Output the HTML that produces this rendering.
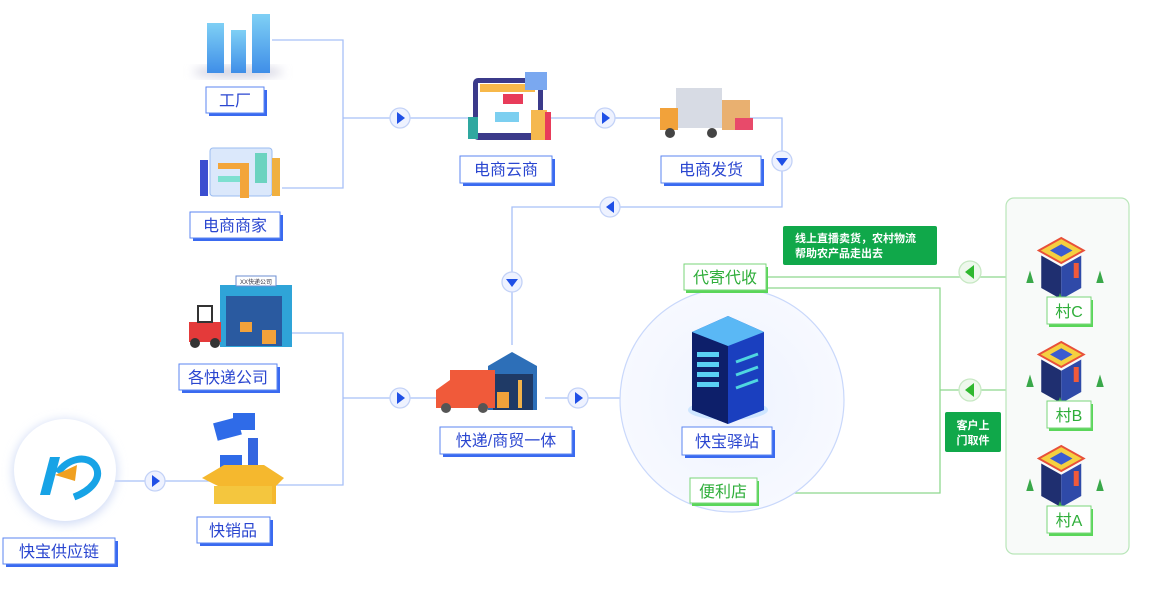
<!DOCTYPE html><html><head><meta charset="utf-8"><style>body{margin:0;background:#fff}svg{display:block}text{font-family:"Liberation Sans","Noto Sans CJK SC",sans-serif}</style></head><body>
<svg width="1149" height="600" viewBox="0 0 1149 600" xmlns="http://www.w3.org/2000/svg">
<defs>
<radialGradient id="cg" cx="50%" cy="50%" r="50%"><stop offset="0" stop-color="#eef3ff"/><stop offset="1" stop-color="#f7f9ff"/></radialGradient>
<linearGradient id="bld" x1="0" x2="0" y1="0" y2="1"><stop offset="0" stop-color="#7fd0f5"/><stop offset="1" stop-color="#3f8ee8"/></linearGradient>
<filter id="sh" x="-30%" y="-30%" width="160%" height="160%"><feGaussianBlur stdDeviation="5"/></filter>
</defs>
<g stroke="#a8c0f7" stroke-width="1.3" fill="none">
<path d="M272 40H343V188H282"/><path d="M343 118H470"/><path d="M540 118H665"/><path d="M740 118H782V207H512V345"/>
<path d="M278 333H343V485H262"/><path d="M343 398H440"/><path d="M545 398H690"/><path d="M112 481H210"/>
</g>
<g stroke="#8ed88e" stroke-width="1.3" fill="none">
<path d="M766 277H1006"/><path d="M766 288H940V493H757"/><path d="M940 390H1006"/>
</g>
<circle cx="732" cy="400" r="112" fill="url(#cg)" stroke="#c9d8fb" stroke-width="1.2"/>
<rect x="1006" y="198" width="123" height="356" rx="8" fill="#f8faf9" stroke="#b9e6b9" stroke-width="1.2"/>
<g fill="#eef2ff" stroke="#c3d2f7" stroke-width="1.3">
<circle cx="400" cy="118" r="10"/><circle cx="605" cy="118" r="10"/><circle cx="782" cy="161" r="10"/><circle cx="610" cy="207" r="10"/><circle cx="512" cy="282" r="10"/><circle cx="400" cy="398" r="10"/><circle cx="578" cy="398" r="10"/><circle cx="155" cy="481" r="10"/>
</g>
<g fill="#1f4fe6">
<path d="M397 112l8 6-8 6z"/><path d="M602 112l8 6-8 6z"/><path d="M776 158l12 0-6 8z"/><path d="M614 201l-8 6 8 6z"/><path d="M506 279l12 0-6 8z"/><path d="M397 392l8 6-8 6z"/><path d="M575 392l8 6-8 6z"/><path d="M152 475l8 6-8 6z"/>
</g>
<g fill="#eef8ec" stroke="#c7e8c3" stroke-width="1.3"><circle cx="970" cy="272" r="11"/><circle cx="970" cy="390" r="11"/></g>
<g fill="#2fb82f"><path d="M974 265l-9 7 9 7z"/><path d="M974 383l-9 7 9 7z"/></g>
<ellipse cx="238" cy="72" rx="45" ry="5" fill="#ccd" filter="url(#sh)"/>
<rect x="207" y="23" width="17" height="50" fill="url(#bld)"/><rect x="231" y="30" width="15" height="43" fill="url(#bld)"/><rect x="252" y="14" width="18" height="59" fill="url(#bld)"/>
<rect x="210" y="148" width="62" height="48" rx="3" fill="#dbe8fb" stroke="#9bbcf0"/>
<rect x="218" y="163" width="22" height="6" fill="#f3a53a"/><rect x="218" y="176" width="24" height="6" fill="#7ee0d0"/><rect x="255" y="153" width="12" height="30" fill="#6cd3c0"/>
<rect x="200" y="160" width="8" height="36" fill="#3b4ed0"/><rect x="240" y="163" width="9" height="35" fill="#f3a53a"/><rect x="272" y="158" width="8" height="38" fill="#f0b040"/>
<rect x="473" y="78" width="70" height="62" rx="5" fill="#3b3a8a"/><rect x="478" y="83" width="60" height="50" fill="#fff"/><rect x="480" y="84" width="55" height="8" fill="#f7b84a"/>
<rect x="503" y="94" width="20" height="10" fill="#e83c5a"/><rect x="495" y="112" width="24" height="10" fill="#7ccff0"/><rect x="525" y="72" width="22" height="18" fill="#7aa8f0"/>
<rect x="531" y="110" width="16" height="30" fill="#f5b84e"/><rect x="545" y="112" width="6" height="28" fill="#e83c5a"/><rect x="468" y="117" width="10" height="22" fill="#2fa8a0"/>
<rect x="676" y="88" width="46" height="40" fill="#d7dbe4"/><rect x="660" y="108" width="18" height="22" fill="#f2a23a"/><rect x="722" y="100" width="28" height="30" fill="#e9b070"/>
<circle cx="670" cy="133" r="5" fill="#444"/><circle cx="712" cy="133" r="5" fill="#444"/><rect x="735" y="118" width="18" height="12" fill="#e84a6a"/>
<rect x="220" y="285" width="72" height="62" fill="#2fa4d8"/><rect x="226" y="296" width="56" height="50" fill="#2a5aa0"/><rect x="236" y="276" width="40" height="10" fill="#fff" stroke="#6b8ed0"/>
<text x="256" y="284" font-size="6" text-anchor="middle" fill="#334">XX快递公司</text>
<rect x="189" y="322" width="32" height="20" fill="#e43a3a"/><rect x="198" y="306" width="14" height="16" fill="none" stroke="#333" stroke-width="2"/><circle cx="195" cy="343" r="5" fill="#333"/><circle cx="215" cy="343" r="5" fill="#333"/>
<rect x="240" y="322" width="12" height="10" fill="#f2a23a"/><rect x="262" y="330" width="14" height="14" fill="#f2a23a"/>
<rect x="215" y="420" width="25" height="18" fill="#2f6be8" transform="rotate(-15 227 429)"/><rect x="233" y="413" width="22" height="17" fill="#2f6be8"/><rect x="220" y="455" width="22" height="16" fill="#2f6be8"/><rect x="248" y="438" width="10" height="36" fill="#3566e0"/>
<path d="M202 478l22-13h40l20 13-8 8v18h-58v-18z" fill="#f5b82e"/><path d="M214 486h58v18h-58z" fill="#f4c63e"/>
<path d="M488 366l24-14 25 14v44h-49z" fill="#2d6fb8"/><rect x="493" y="374" width="40" height="36" fill="#1f3a66"/>
<rect x="450" y="370" width="45" height="38" fill="#f05a3a"/><path d="M436 390l14-10v28h-14z" fill="#f05a3a"/><circle cx="446" cy="408" r="5" fill="#555"/><circle cx="483" cy="408" r="5" fill="#555"/>
<rect x="497" y="392" width="12" height="16" fill="#f2a23a"/><rect x="518" y="380" width="4" height="28" fill="#f2b24a"/>
<ellipse cx="728" cy="410" rx="40" ry="10" fill="#bfe0ff" opacity=".7"/>
<path d="M692 332l36-16 36 16v78l-36 14-36-14z" fill="#1a3fbf"/><path d="M692 332l36 14v78l-36-14z" fill="#0d1f6a"/><path d="M692 332l36-16 36 16-36 14z" fill="#5ab8f5"/>
<rect x="697" y="352" width="22" height="5" fill="#5ad0f5"/><rect x="697" y="362" width="22" height="5" fill="#5ad0f5"/><rect x="697" y="372" width="22" height="5" fill="#5ad0f5"/><rect x="697" y="382" width="22" height="5" fill="#5ad0f5"/>
<path d="M736 362l22-8M736 375l22-8M736 388l22-8" stroke="#4fd6e0" stroke-width="3"/>
<g id="v" transform="translate(1065 268) scale(1.25) translate(-1065 -268)">
<path d="M1044 254l18-10 18 10-18 10z" fill="#f5d040" stroke="#e8503a" stroke-width="1.5"/><path d="M1053 254l9-5 9 5-9 5z" fill="#3b5bd0"/>
<path d="M1046 258l16 9v26l-16-9z" fill="#1f2f70"/><path d="M1062 267l16-9v26l-16 9z" fill="#2f4aa8"/>
<rect x="1072" y="264" width="4" height="12" fill="#f05a3a"/><path d="M1034 280l3-10 3 10z M1090 280l3-10 3 10z M1058 296l3-8 3 8z" fill="#3aa84a"/>
</g>
<use href="#v" y="104"/><use href="#v" y="208"/>
<circle cx="65" cy="472" r="52" fill="#cfdaf5" filter="url(#sh)"/><circle cx="65" cy="470" r="51" fill="#fff"/>
<path d="M40 495l10-38h10l-10 38z" fill="#17a3e6"/><path d="M58 473c8-14 30-20 38-6 6 12-6 24-22 30" stroke="#17a3e6" stroke-width="7" fill="none"/><path d="M55 475l20 6 2-16z" fill="#f0a020"/>
<rect x="783" y="226" width="154" height="39" rx="2" fill="#10a84a"/>
<text x="795" y="242" font-size="11" fill="#fff" font-weight="bold">线上直播卖货，农村物流</text>
<text x="795" y="257" font-size="11" fill="#fff" font-weight="bold">帮助农产品走出去</text>
<rect x="945" y="412" width="56" height="40" rx="2" fill="#10a84a"/>
<text x="973" y="429" font-size="11" fill="#fff" font-weight="bold" text-anchor="middle">客户上</text>
<text x="973" y="444" font-size="11" fill="#fff" font-weight="bold" text-anchor="middle">门取件</text>
<g font-size="16" fill="#2a46d0" text-anchor="middle">
<g><rect x="209" y="90" width="58" height="26" fill="#3a6af0"/><rect x="206" y="87" width="58" height="26" fill="#fff" stroke="#5b86f2"/><text x="235" y="106">工厂</text></g>
<g><rect x="193" y="215" width="90" height="26" fill="#3a6af0"/><rect x="190" y="212" width="90" height="26" fill="#fff" stroke="#5b86f2"/><text x="235" y="231">电商商家</text></g>
<g><rect x="463" y="159" width="92" height="27" fill="#3a6af0"/><rect x="460" y="156" width="92" height="27" fill="#fff" stroke="#5b86f2"/><text x="506" y="175">电商云商</text></g>
<g><rect x="664" y="159" width="100" height="27" fill="#3a6af0"/><rect x="661" y="156" width="100" height="27" fill="#fff" stroke="#5b86f2"/><text x="711" y="175">电商发货</text></g>
<g><rect x="182" y="367" width="98" height="26" fill="#3a6af0"/><rect x="179" y="364" width="98" height="26" fill="#fff" stroke="#5b86f2"/><text x="228" y="383">各快递公司</text></g>
<g><rect x="443" y="430" width="132" height="27" fill="#3a6af0"/><rect x="440" y="427" width="132" height="27" fill="#fff" stroke="#5b86f2"/><text x="506" y="446">快递/商贸一体</text></g>
<g><rect x="685" y="430" width="90" height="28" fill="#3a6af0"/><rect x="682" y="427" width="90" height="28" fill="#fff" stroke="#5b86f2"/><text x="727" y="447">快宝驿站</text></g>
<g><rect x="200" y="520" width="73" height="26" fill="#3a6af0"/><rect x="197" y="517" width="73" height="26" fill="#fff" stroke="#5b86f2"/><text x="233" y="536">快销品</text></g>
<g><rect x="6" y="541" width="112" height="26" fill="#3a6af0"/><rect x="3" y="538" width="112" height="26" fill="#fff" stroke="#5b86f2"/><text x="59" y="557">快宝供应链</text></g>
</g>
<g font-size="16" fill="#2fae3a" text-anchor="middle">
<g><rect x="686" y="267" width="82" height="26" fill="#5ad65a"/><rect x="684" y="264" width="82" height="26" fill="#fff" stroke="#7ad67a"/><text x="725" y="283">代寄代收</text></g>
<g><rect x="692" y="481" width="67" height="25" fill="#5ad65a"/><rect x="690" y="478" width="67" height="25" fill="#fff" stroke="#7ad67a"/><text x="723" y="497">便利店</text></g>
<g><rect x="1049" y="300" width="44" height="27" fill="#5ad65a"/><rect x="1047" y="297" width="44" height="27" fill="#fff" stroke="#7ad67a"/><text x="1069" y="317">村C</text></g>
<g><rect x="1049" y="404" width="44" height="27" fill="#5ad65a"/><rect x="1047" y="401" width="44" height="27" fill="#fff" stroke="#7ad67a"/><text x="1069" y="421">村B</text></g>
<g><rect x="1049" y="509" width="44" height="27" fill="#5ad65a"/><rect x="1047" y="506" width="44" height="27" fill="#fff" stroke="#7ad67a"/><text x="1069" y="526">村A</text></g>
</g>
</svg></body></html>
